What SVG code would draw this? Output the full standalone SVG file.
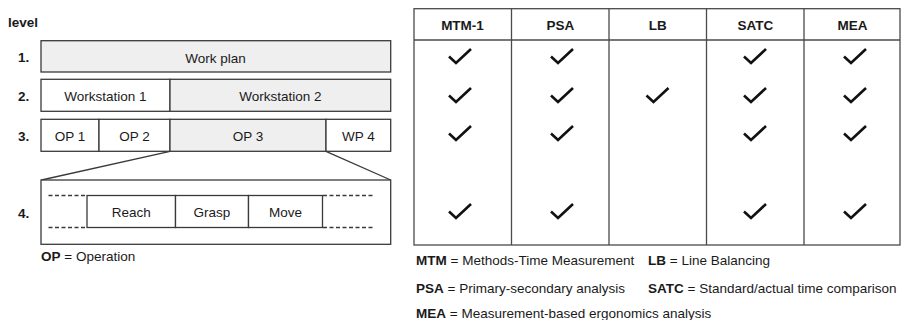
<svg xmlns="http://www.w3.org/2000/svg" width="901" height="320" viewBox="0 0 901 320">
  <defs>
    <style>
      text { font-family: "Liberation Sans", Arial, sans-serif; font-size: 13.5px; fill: #1a1a1a; }
      .b { font-weight: bold; }
      .mid { text-anchor: middle; }
      .box { stroke: #3a3a3a; stroke-width: 1.3; fill: #ffffff; }
      .grey { fill: #efefef; }
      .ln { stroke: #3a3a3a; stroke-width: 1.3; fill: none; }
      .dash { stroke: #3a3a3a; stroke-width: 1.3; stroke-dasharray: 4 2.5; fill: none; }
      .grid { stroke: #4a4a4a; stroke-width: 1.3; fill: none; }
      .tick { stroke: #111111; stroke-width: 2.6; fill: none; stroke-linecap: butt; stroke-linejoin: miter; }
    </style>
    <path id="check" d="M-11,0.5 L-4,7 L11,-7" class="tick"/>
  </defs>

  <rect width="901" height="320" fill="#ffffff"/>

  <!-- level hierarchy -->
  <text x="8" y="27" class="b">level</text>

  <g id="level1">
    <text x="18" y="62" class="b">1.</text>
    <rect x="41" y="40.7" width="349.7" height="31.3" class="box grey"/>
    <text x="215.5" y="62.5" class="mid">Work plan</text>
  </g>

  <g id="level2">
    <text x="18" y="101" class="b">2.</text>
    <rect x="41" y="79.3" width="129" height="32" class="box"/>
    <text x="105.5" y="101" class="mid">Workstation 1</text>
    <rect x="170" y="79.3" width="220.7" height="32" class="box grey"/>
    <text x="280.3" y="101" class="mid">Workstation 2</text>
  </g>

  <g id="level3">
    <text x="18" y="141" class="b">3.</text>
    <rect x="41" y="119.3" width="58" height="32" class="box"/>
    <text x="70" y="141" class="mid">OP 1</text>
    <rect x="99" y="119.3" width="71" height="32" class="box"/>
    <text x="134.5" y="141" class="mid">OP 2</text>
    <rect x="170" y="119.3" width="156" height="32" class="box grey"/>
    <text x="248" y="141" class="mid">OP 3</text>
    <rect x="326" y="119.3" width="64.7" height="32" class="box"/>
    <text x="358.3" y="141" class="mid">WP 4</text>
  </g>

  <!-- zoom lines from OP 3 down to level 4 -->
  <g id="connectors">
    <line x1="170" y1="151.3" x2="41.5" y2="180" class="ln"/>
    <line x1="326" y1="151.3" x2="390.7" y2="180" class="ln"/>
  </g>

  <g id="level4">
    <text x="18" y="218" class="b">4.</text>
    <rect x="41" y="180" width="349.7" height="64.3" class="box"/>
    <line x1="48.5" y1="195.5" x2="87" y2="195.5" class="dash"/>
    <line x1="48.5" y1="227.5" x2="87" y2="227.5" class="dash"/>
    <line x1="323" y1="195.5" x2="375" y2="195.5" class="dash"/>
    <line x1="323" y1="227.5" x2="375" y2="227.5" class="dash"/>
    <rect x="87" y="195.5" width="88.5" height="32" class="box"/>
    <text x="131.3" y="217" class="mid">Reach</text>
    <rect x="175.5" y="195.5" width="73" height="32" class="box"/>
    <text x="212" y="217" class="mid">Grasp</text>
    <rect x="248.5" y="195.5" width="74" height="32" class="box"/>
    <text x="285.5" y="217" class="mid">Move</text>
  </g>

  <text x="41" y="261"><tspan class="b">OP</tspan> = Operation</text>

  <!-- method table -->
  <g id="table">
    <rect x="414" y="8.7" width="486" height="236.3" class="grid"/>
    <line x1="414" y1="40" x2="900" y2="40" class="grid"/>
    <line x1="511.5" y1="8.7" x2="511.5" y2="245" class="grid"/>
    <line x1="609" y1="8.7" x2="609" y2="245" class="grid"/>
    <line x1="706.5" y1="8.7" x2="706.5" y2="245" class="grid"/>
    <line x1="804" y1="8.7" x2="804" y2="245" class="grid"/>
    <text x="462.5" y="29.5" class="b mid">MTM-1</text>
    <text x="560.3" y="29.5" class="b mid">PSA</text>
    <text x="657.8" y="29.5" class="b mid">LB</text>
    <text x="755.3" y="29.5" class="b mid">SATC</text>
    <text x="852.5" y="29.5" class="b mid">MEA</text>
  </g>

  <g id="checks">
    <use href="#check" x="460" y="56"/>
    <use href="#check" x="562" y="56"/>
    <use href="#check" x="755" y="56"/>
    <use href="#check" x="855" y="56"/>

    <use href="#check" x="460" y="95"/>
    <use href="#check" x="562" y="95"/>
    <use href="#check" x="657.5" y="95"/>
    <use href="#check" x="755" y="95"/>
    <use href="#check" x="855" y="95"/>

    <use href="#check" x="460" y="133"/>
    <use href="#check" x="562" y="133"/>
    <use href="#check" x="755" y="133"/>
    <use href="#check" x="855" y="133"/>

    <use href="#check" x="460" y="211"/>
    <use href="#check" x="562" y="211"/>
    <use href="#check" x="755" y="211"/>
    <use href="#check" x="855" y="211"/>
  </g>

  <!-- abbreviations -->
  <g id="legend">
    <text x="416" y="265"><tspan class="b">MTM</tspan> = Methods-Time Measurement</text>
    <text x="648" y="265"><tspan class="b">LB</tspan> = Line Balancing</text>
    <text x="416" y="292.5"><tspan class="b">PSA</tspan> = Primary-secondary analysis</text>
    <text x="648" y="292.5"><tspan class="b">SATC</tspan> = Standard/actual time comparison</text>
    <text x="416" y="318"><tspan class="b">MEA</tspan> = Measurement-based ergonomics analysis</text>
  </g>
</svg>
